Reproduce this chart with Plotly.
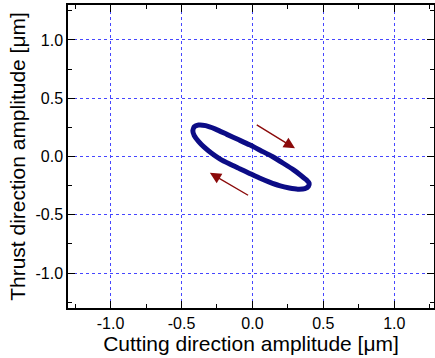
import plotly.graph_objects as go

# Loop traced in the (cutting, thrust) amplitude plane [µm]
cut_amp = [-0.42, -0.41, -0.38, -0.33, -0.26, -0.18, -0.10, -0.02, 0.06, 0.14, 0.22, 0.29,
           0.34, 0.38, 0.40, 0.395, 0.37, 0.32, 0.26, 0.19, 0.12, 0.05, -0.02,
           -0.09, -0.16, -0.23, -0.29, -0.34, -0.38, -0.41, -0.42]
thrust_amp = [0.22, 0.255, 0.27, 0.265, 0.235, 0.19, 0.145, 0.10, 0.05, 0.00, -0.06, -0.115,
              -0.16, -0.20, -0.23, -0.255, -0.275, -0.28, -0.27, -0.25, -0.22, -0.185, -0.145,
              -0.105, -0.065, -0.02, 0.03, 0.08, 0.13, 0.18, 0.22]

# Direction arrows: (start x, start y, tip x, tip y)
arrows = [(0.02, 0.28, 0.30, 0.07), (-0.02, -0.34, -0.30, -0.14)]

tick_vals = [-1.0, -0.5, 0.0, 0.5, 1.0]
tick_text = ["-1.0", "-0.5", "0.0", "0.5", "1.0"]

FONT = "Liberation Sans, Arial, sans-serif"

fig = go.Figure()
fig.add_trace(go.Scatter(x=cut_amp, y=thrust_amp, mode="lines",
                         line=dict(color="#0c0c86", width=5, shape="spline", smoothing=0.5),
                         showlegend=False, hoverinfo="skip"))

for sx, sy, tx, ty in arrows:
    fig.add_annotation(x=tx, y=ty, ax=sx, ay=sy, xref="x", yref="y", axref="x", ayref="y",
                       showarrow=True, arrowhead=2, arrowsize=1.6, arrowwidth=1.4,
                       arrowcolor="#8b0a0a", text="")

axis_common = dict(
    tickmode="array", tickvals=tick_vals, ticktext=tick_text,
    ticks="inside", ticklen=7, tickwidth=1, tickcolor="black",
    showline=True, linecolor="black", linewidth=1.5, mirror="allticks",
    showgrid=True, gridcolor="#4646ff", griddash="dot", gridwidth=1,
    zeroline=False, automargin=False,
    minor=dict(ticks="inside", ticklen=4, tickcolor="black", dtick=0.25, tick0=0, showgrid=False),
    tickfont=dict(family=FONT, size=16, color="black"),
)

fig.update_xaxes(range=[-1.3, 1.28],
                 title=dict(text="Cutting direction amplitude [μm]", standoff=4,
                            font=dict(family=FONT, size=21, color="black")),
                 **axis_common)
fig.update_yaxes(range=[-1.3, 1.3],
                 title=dict(text="Thrust direction amplitude [μm]", standoff=4,
                            font=dict(family=FONT, size=21, color="black")),
                 **axis_common)

fig.update_layout(width=435, height=358, margin=dict(l=68, r=1, t=5, b=50),
                  paper_bgcolor="white", plot_bgcolor="white", showlegend=False)

fig.write_html("out.html", config={"displayModeBar": False},
               post_script="document.body.style.margin='0';document.body.style.padding='0';")
